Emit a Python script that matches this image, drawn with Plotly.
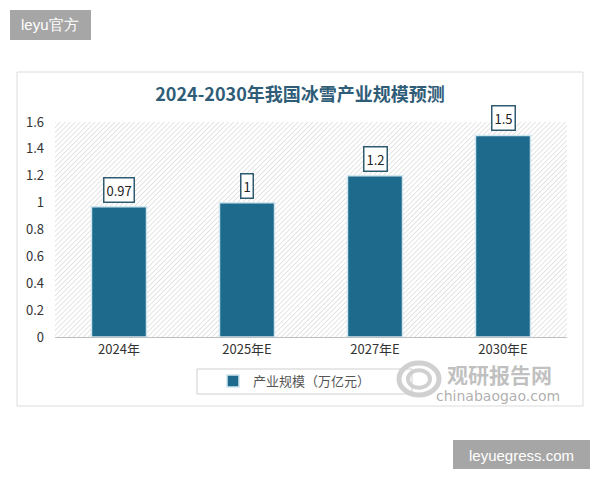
import base64
import plotly.graph_objects as go

# ---- data ----
categories = ["2024年", "2025年E", "2027年E", "2030年E"]
values = [0.97, 1, 1.2, 1.5]
value_labels = ["0.97", "1", "1.2", "1.5"]
series_name = "产业规模（万亿元）"
title_text = "2024-2030年我国冰雪产业规模预测"
y_ticks = [0, 0.2, 0.4, 0.6, 0.8, 1, 1.2, 1.4, 1.6]

FONT = "Noto Sans CJK SC"
BAR = "#1e6a8c"

# plot area in pixels
L, R, T, B = 55, 567, 122, 337
W, H = 600, 480
PW, PH = R - L, B - T


def px(x):
    return (x - L) / PW


def py(y):
    return (B - y) / PH


fig = go.Figure()
fig.add_trace(go.Bar(
    x=categories, y=values, name=series_name,
    marker=dict(color=BAR, line=dict(color="#cfe6ee", width=1.5)),
    width=0.43, showlegend=True,
))

# value labels with boxes
for c, v, t in zip(categories, values, value_labels):
    fig.add_annotation(x=c, y=v, text=t, showarrow=False, yanchor="bottom",
                       yshift=4, bgcolor="white", bordercolor="#2e5b70",
                       borderwidth=1.5, borderpad=2,
                       font=dict(family=FONT, size=13, color="#222"))

# hatch background
svg = ("<svg xmlns='http://www.w3.org/2000/svg' width='%d' height='%d'>"
       "<defs><pattern id='p' width='3.5' height='3.5' patternUnits='userSpaceOnUse' "
       "patternTransform='rotate(45)'><line x1='0' y1='0' x2='0' y2='3.5' "
       "stroke='#d2d2d2' stroke-width='1.2'/></pattern></defs>"
       "<rect width='100%%' height='100%%' fill='url(#p)'/></svg>") % (PW, PH)
src = "data:image/svg+xml;base64," + base64.b64encode(svg.encode()).decode()
fig.add_layout_image(source=src, xref="paper", yref="paper", x=0, y=1,
                     sizex=1, sizey=1, sizing="stretch", xanchor="left",
                     yanchor="top", layer="below")

shapes = []
# outer frame
shapes.append(dict(type="rect", xref="paper", yref="paper",
                   x0=px(17), x1=px(583), y0=py(406), y1=py(72),
                   line=dict(color="#dcdcdc", width=1), layer="below"))
# legend box
shapes.append(dict(type="rect", xref="paper", yref="paper",
                   x0=px(197), x1=px(412), y0=py(394), y1=py(369),
                   line=dict(color="#cfcfcf", width=1)))
# badges
shapes.append(dict(type="rect", xref="paper", yref="paper",
                   x0=px(10), x1=px(91), y0=py(40), y1=py(10),
                   fillcolor="#a6a6a6", line=dict(width=0)))
shapes.append(dict(type="rect", xref="paper", yref="paper",
                   x0=px(453), x1=px(590), y0=py(469), y1=py(440),
                   fillcolor="#a6a6a6", line=dict(width=0)))
# watermark logo rings
for r, w in [(20, 5), (11, 4)]:
    cx, cy = 419, 379
    shapes.append(dict(type="circle", xref="paper", yref="paper",
                       x0=px(cx - r), x1=px(cx + r), y0=py(cy + r * 0.8), y1=py(cy - r * 0.8),
                       line=dict(color="rgba(170,170,170,0.55)", width=w), layer="below"))
fig.update_layout(shapes=shapes)

ann = [
    dict(x=px(50), y=py(25), text="leyu官方", font=dict(family="Liberation Sans", size=15, color="white")),
    dict(x=px(521), y=py(455), text="leyuegress.com", font=dict(family="Liberation Sans", size=15, color="white")),
    dict(x=px(499), y=py(374), text="<b>观研报告网</b>", font=dict(family=FONT, size=21, color="rgba(150,150,150,0.6)")),
    dict(x=px(498), y=py(396), text="chinabaogao.com", font=dict(family="DejaVu Sans", size=14, color="rgba(140,140,140,0.7)")),
]
for a in ann:
    fig.add_annotation(xref="paper", yref="paper", showarrow=False,
                       xanchor="center", yanchor="middle", **a)

fig.update_layout(
    width=W, height=H,
    margin=dict(l=L, r=W - R, t=T, b=H - B),
    paper_bgcolor="white", plot_bgcolor="rgba(0,0,0,0)",
    title=dict(text="<b>" + title_text + "</b>", x=0.5, xref="container",
               y=1 - 95 / H, yref="container", xanchor="center", yanchor="middle",
               font=dict(family=FONT, size=18, color="#2f5d78")),
    xaxis=dict(showgrid=False, showline=True, linecolor="#bfbfbf", linewidth=1,
               ticks="", tickfont=dict(family=FONT, size=13, color="#333")),
    yaxis=dict(range=[0, 1.6], tickvals=y_ticks, showgrid=False, zeroline=False,
               showline=False, ticks="", ticklabelstandoff=10,
               tickfont=dict(family=FONT, size=13, color="#333")),
    legend=dict(orientation="h", x=px(213), y=py(381), xanchor="left", yanchor="middle",
                bgcolor="rgba(0,0,0,0)", font=dict(family=FONT, size=13, color="#555")),
    bargap=0.57,
)

fig.write_html("out.html")
